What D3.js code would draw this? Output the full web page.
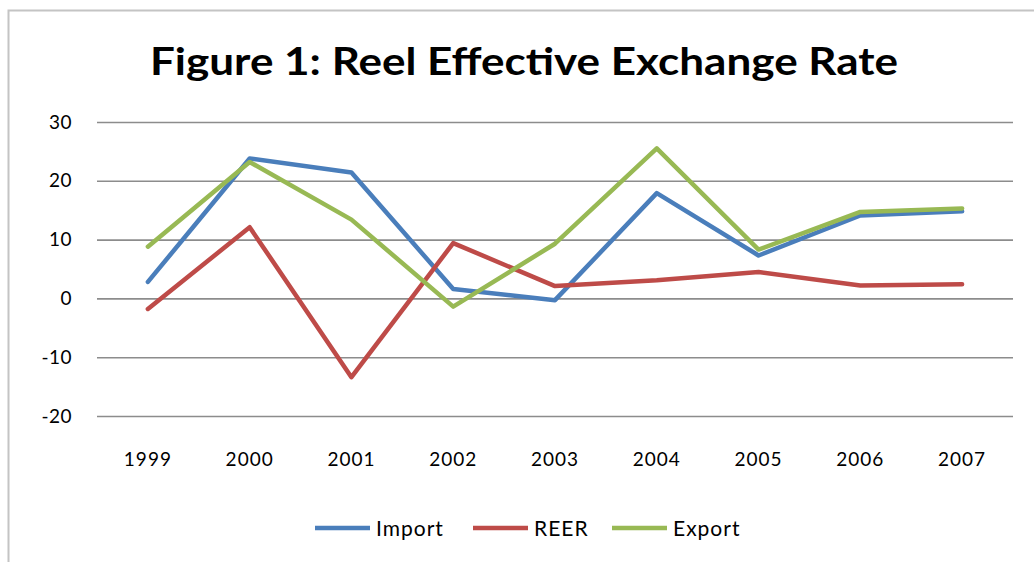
<!DOCTYPE html>
<html>
<head>
<meta charset="utf-8">
<script src="https://cdn.jsdelivr.net/npm/d3@7"></script>
<style>
  html, body { margin: 0; padding: 0; background: #fff; }
  svg { display: block; }
  text { font-family: Lato, "Open Sans", sans-serif; fill: #000; }
</style>
</head>
<body>
<svg id="chart" width="1034" height="562"></svg>
<script>
// Years on the category axis
const years = ["1999", "2000", "2001", "2002", "2003", "2004", "2005", "2006", "2007"];

// Series values (percent)
const importValues = [2.8, 23.8, 21.4, 1.6, -0.3, 17.9, 7.3, 14.1, 14.8];
const reerValues   = [-1.8, 12.1, -13.4, 9.4, 2.1, 3.1, 4.5, 2.2, 2.4];
const exportValues = [8.8, 23.2, 13.4, -1.4, 9.3, 25.5, 8.3, 14.7, 15.3];

// Value axis ticks
const yTicks = [-20, -10, 0, 10, 20, 30];

const seriesNames = ["Import", "REER", "Export"];
const seriesColors = ["#4a7ebb", "#be4b48", "#98b954"];
const seriesData = [importValues, reerValues, exportValues];

const svg = d3.select("#chart");

// Chart frame
svg.append("rect")
  .attr("x", 8.5).attr("y", 10.5)
  .attr("width", 1100).attr("height", 700)
  .attr("fill", "none")
  .attr("stroke", "#c4c4c4")
  .attr("stroke-width", 2);

// Title
svg.append("text")
  .attr("x", 524).attr("y", 75)
  .attr("text-anchor", "middle")
  .attr("font-size", 38)
  .attr("font-weight", "bold")
  .attr("textLength", 748)
  .attr("lengthAdjust", "spacingAndGlyphs")
  .text("Figure 1: Reel Effective Exchange Rate");

const plot = { left: 97, right: 1013, top: 122, bottom: 416 };

const x = d3.scaleBand()
  .domain(years)
  .range([plot.left, plot.right]);

const y = d3.scaleLinear()
  .domain([-20, 30])
  .range([plot.bottom, plot.top]);

// Horizontal gridlines + value labels (plain hyphen for negatives)
const yAxis = d3.axisLeft(y)
  .tickValues(yTicks)
  .tickSize(-(plot.right - plot.left))
  .tickPadding(25)
  .tickFormat(d => String(d));

const gy = svg.append("g")
  .attr("transform", `translate(${plot.left},0)`)
  .call(yAxis);
gy.select(".domain").remove();
gy.selectAll(".tick line")
  .attr("stroke", "#8c8c8c")
  .attr("stroke-width", 1.6);
gy.selectAll(".tick text")
  .attr("font-size", 19)
  .attr("fill", "#000")
  .style("letter-spacing", "0.5px")
  .style("font-family", "Lato, 'Open Sans', sans-serif");

// Category labels
const xAxis = d3.axisBottom(x).tickSize(0).tickPadding(37);
const gx = svg.append("g")
  .attr("transform", `translate(0,${plot.bottom})`)
  .call(xAxis);
gx.select(".domain").remove();
gx.selectAll(".tick text")
  .attr("font-size", 19)
  .attr("fill", "#000")
  .style("letter-spacing", "1px")
  .style("font-family", "Lato, 'Open Sans', sans-serif");

// Series lines
const line = d3.line()
  .x((d, i) => x(years[i]) + x.bandwidth() / 2)
  .y(d => y(d));

seriesData.forEach((vals, k) => {
  svg.append("path")
    .datum(vals)
    .attr("d", line)
    .attr("fill", "none")
    .attr("stroke", seriesColors[k])
    .attr("stroke-width", 4.5)
    .attr("stroke-linejoin", "round")
    .attr("stroke-linecap", "round");
});

// Legend
const legendX = [315, 473, 612];
const legend = svg.append("g");
seriesNames.forEach((name, k) => {
  const g = legend.append("g").attr("transform", `translate(${legendX[k]},528)`);
  g.append("line")
    .attr("x1", 0).attr("x2", 55)
    .attr("y1", 0).attr("y2", 0)
    .attr("stroke", seriesColors[k])
    .attr("stroke-width", 4.5);
  g.append("text")
    .attr("x", 61).attr("y", 7.5)
    .attr("font-size", 21)
    .style("letter-spacing", "1px")
    .text(name);
});
</script>
</body>
</html>
